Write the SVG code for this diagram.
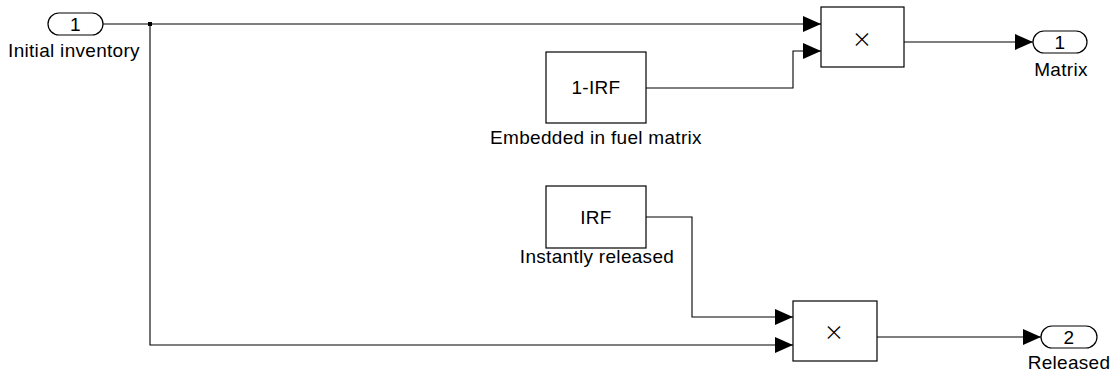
<svg xmlns="http://www.w3.org/2000/svg" width="1114" height="372" viewBox="0 0 1114 372">
<style>
  .blk { fill: #ffffff; stroke: #000000; stroke-width: 1.2; }
  .port { fill: #ffffff; stroke: #000000; stroke-width: 1.2; }
  .wire { fill: none; stroke: #000000; stroke-width: 1.1; }
  .t { font-family: "Liberation Sans", Arial, sans-serif; font-size: 19px; letter-spacing: 0.3px; fill: #000000; text-anchor: middle; }
  .x { font-family: Inter, "DejaVu Sans", sans-serif; font-size: 30px; font-weight: 200; fill: #000000; text-anchor: middle; }
</style>
<defs>
  <marker id="arr" viewBox="0 0 18 16" refX="18" refY="8" markerWidth="18" markerHeight="16" markerUnits="userSpaceOnUse" orient="auto">
    <path d="M0,0 L18,8 L0,16 Z" fill="#000000"/>
  </marker>
</defs>
<rect width="1114" height="372" fill="#ffffff"/>
<g id="connectors">
  <path class="wire" d="M103,24 L821,24" marker-end="url(#arr)"/>
  <path class="wire" d="M150,24 L150,345 L793,345" marker-end="url(#arr)"/>
  <path class="wire" d="M646,88 L793,88 L793,51 L821,51" marker-end="url(#arr)"/>
  <path class="wire" d="M904,42 L1033,42" marker-end="url(#arr)"/>
  <path class="wire" d="M646,217 L692,217 L692,317 L793,317" marker-end="url(#arr)"/>
  <path class="wire" d="M877,337 L1041,337" marker-end="url(#arr)"/>
  <rect x="148" y="22" width="4" height="4" fill="#000000"/>
</g>
<g id="inport1">
  <rect class="port" x="48" y="13" width="55" height="22" rx="11" ry="11"/>
  <text class="t" x="75.5" y="31">1</text>
  <text class="t" x="74" y="57">Initial inventory</text>
</g>
<g id="embedded">
  <rect class="blk" x="546" y="52" width="100" height="71"/>
  <text class="t" x="596" y="94">1-IRF</text>
  <text class="t" x="596" y="144">Embedded in fuel matrix</text>
</g>
<g id="instant">
  <rect class="blk" x="546" y="186" width="100" height="62"/>
  <text class="t" x="596" y="224">IRF</text>
  <text class="t" x="597" y="263">Instantly released</text>
</g>
<g id="product1">
  <rect class="blk" x="821" y="7" width="83" height="60"/>
  <text class="x" x="862" y="48">×</text>
</g>
<g id="product2">
  <rect class="blk" x="793" y="301" width="84" height="60"/>
  <text class="x" x="834" y="341">×</text>
</g>
<g id="outport1">
  <rect class="port" x="1033" y="31" width="54" height="22" rx="11" ry="11"/>
  <text class="t" x="1060" y="49">1</text>
  <text class="t" x="1061" y="76">Matrix</text>
</g>
<g id="outport2">
  <rect class="port" x="1041" y="326" width="56" height="22" rx="11" ry="11"/>
  <text class="t" x="1069" y="344">2</text>
  <text class="t" x="1069" y="369">Released</text>
</g>
</svg>
